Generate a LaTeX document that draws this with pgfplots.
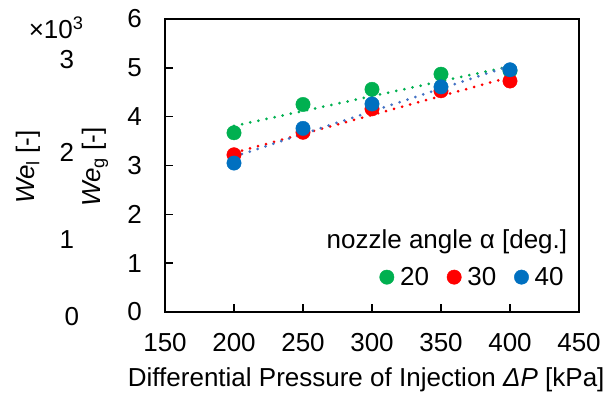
\documentclass[border=0pt]{standalone}
\usepackage{fontspec}
\setmainfont{Liberation Sans}
\usepackage{pgfplots}
\pgfplotsset{compat=1.18}
\definecolor{cg}{HTML}{00B050}
\definecolor{cr}{HTML}{FF0000}
\definecolor{cb}{HTML}{0070C0}
\definecolor{cbt}{HTML}{4472C4}
\newcommand{\bigfont}{\fontsize{26bp}{31bp}\selectfont}
\begin{document}
\begin{tikzpicture}[font=\bigfont]
\begin{axis}[
  font=\bigfont,
  scale only axis, width=414bp, height=293bp,
  xmin=150, xmax=450, ymin=0, ymax=6,
  xtick={150,200,...,450}, ytick={0,1,...,6},
  /pgf/number format/assume math mode=true,
  tick align=inside, xtick pos=bottom, ytick pos=left,
  major tick length=8bp,
  axis line style={line width=1.5bp, black},
  every tick/.style={black, line width=1.5bp},
  xticklabel style={inner sep=0pt, anchor=center, yshift=-31bp},
  yticklabel style={inner sep=0pt, anchor=east, xshift=-23bp},
  xlabel={Differential Pressure of Injection \textit{ΔP} [kPa]},
  xlabel style={at={(axis description cs:0.486,-0.232)}, anchor=center, inner sep=0pt},
  ylabel={\textit{We}\textsubscript{g} [-]},
  ylabel style={at={(axis description cs:-0.169,0.495)}, anchor=center, inner sep=0pt},
  clip=false,
  legend columns=3,
  legend image code/.code={\draw[#1, only marks] plot coordinates {(0bp,0bp)};},
  legend style={draw=none, fill=none, at={(axis description cs:0.518,0.119)}, anchor=west,
    inner sep=0pt, nodes={inner sep=0pt},
    /tikz/every odd column/.append style={column sep=6bp},
    /tikz/every even column/.append style={column sep=18bp}},
]
% markers
\addplot[only marks, mark=*, mark size=7.2bp, color=cg] coordinates {
  (200,3.67) (250,4.25) (300,4.56) (350,4.87) (400,4.94)};
\addlegendentry{20}
\addplot[only marks, mark=*, mark size=7.2bp, color=cr] coordinates {
  (200,3.22) (250,3.68) (300,4.16) (350,4.53) (400,4.73)};
\addlegendentry{30}
\addplot[only marks, mark=*, mark size=7.2bp, color=cb] coordinates {
  (200,3.05) (250,3.76) (300,4.26) (350,4.61) (400,4.96)};
\addlegendentry{40}
% trend lines
\addplot[forget plot, cg, line width=3bp, line cap=round, dash pattern=on 0bp off 8.3bp] coordinates {(200,3.81) (400,5.03)};
\addplot[forget plot, cr, line width=3bp, line cap=round, dash pattern=on 0bp off 8.3bp] coordinates {(200,3.26) (400,4.81)};
\addplot[forget plot, cbt, line width=3bp, line cap=round, dash pattern=on 0bp off 8.3bp] coordinates {(200,3.18) (400,5.04)};
% secondary labels
\node[inner sep=0pt] at (axis description cs:0.681,0.239) {nozzle angle α [deg.]};
\node[inner sep=0pt, rotate=90] at (axis description cs:-0.331,0.495) {\textit{We}\textsubscript{l} [-]};
\node[inner sep=0pt] at (axis description cs:-0.263,0.969) {×10\textsuperscript{3}};
\node[inner sep=0pt] at (axis description cs:-0.237,0.860) {3};
\node[inner sep=0pt] at (axis description cs:-0.237,0.543) {2};
\node[inner sep=0pt] at (axis description cs:-0.237,0.246) {1};
\node[inner sep=0pt] at (axis description cs:-0.225,-0.017) {0};
\end{axis}
\pgfresetboundingbox
\path[use as bounding box] ([shift={(-165bp,-84bp)}]current axis.south west) rectangle ([shift={(33bp,19bp)}]current axis.north east);
\end{tikzpicture}
\end{document}
